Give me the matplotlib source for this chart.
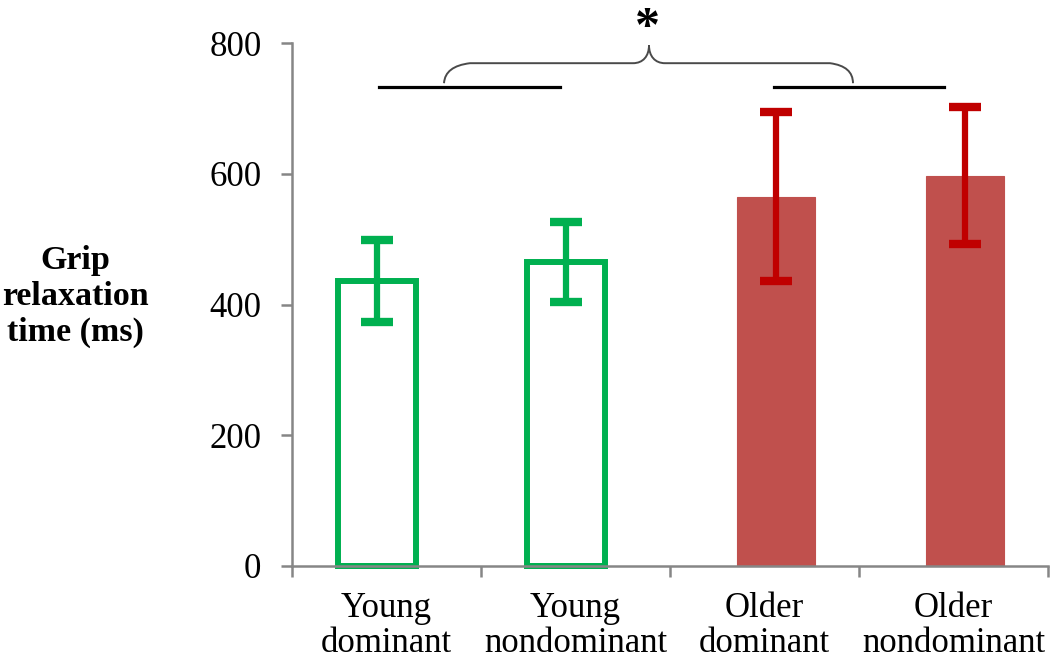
import numpy as np
import matplotlib.pyplot as plt
from matplotlib.path import Path
from matplotlib.patches import PathPatch

plt.rcParams['font.family'] = ['Liberation Serif', 'DejaVu Serif']

# data
groups = ['Young\ndominant', 'Young\nnondominant', 'Older\ndominant', 'Older\nnondominant']
means = [436, 465, 565, 597]
errors = [63, 61, 129, 105]
fill_colors = ['none', 'none', '#C0504D', '#C0504D']
edge_colors = ['#00B050', '#00B050', '#C0504D', '#C0504D']
err_colors = ['#00B050', '#00B050', '#C00000', '#C00000']
y_ticks = [0, 200, 400, 600, 800]

fig = plt.figure(figsize=(10.5, 6.61), dpi=100)
ax = fig.add_axes([292 / 1050, 1 - 566 / 661, 756 / 1050, 523 / 661])

x = np.arange(len(groups))
shift = np.array([-0.05, -0.05, 0.06, 0.06])
xb = x + shift

for i in range(len(groups)):
    lw = 4.3 if fill_colors[i] == 'none' else 0.8
    ax.bar(xb[i], means[i], width=0.41 if fill_colors[i] == 'none' else 0.415,
           color=fill_colors[i], edgecolor=edge_colors[i], linewidth=lw,
           zorder=2, clip_on=False)
    ax.errorbar(xb[i], means[i], yerr=errors[i], fmt='none', ecolor=err_colors[i],
                elinewidth=4.5, capsize=11.5, capthick=6, zorder=3)

ax.set_xlim(-0.5, 3.5)
ax.set_ylim(0, 800)

for s in ['top', 'right']:
    ax.spines[s].set_visible(False)
for s in ['left', 'bottom']:
    ax.spines[s].set_color('#868686')
    ax.spines[s].set_linewidth(1.8)

ax.set_yticks(y_ticks)
ax.tick_params(axis='y', length=8, width=1.8, color='#868686', pad=14, labelsize=25)
ax.set_xticks(x)
ax.set_xticklabels(groups, fontsize=25, linespacing=1.08)
ax.set_xticks(np.arange(-0.5, 4, 1), minor=True)
ax.tick_params(axis='x', which='major', length=0, pad=19)
ax.tick_params(axis='x', which='minor', length=8, width=1.8, color='#868686')

ax.set_ylabel('Grip\nrelaxation\ntime (ms)', rotation=0, fontsize=24.5,
              fontweight='bold', ha='center', va='center', linespacing=1.2)
ax.yaxis.set_label_coords(-0.287, 0.515)

# significance bars and brace
ax.plot([-0.04, 0.92], [732, 732], color='k', lw=2.3, clip_on=False, zorder=4)
ax.plot([2.05, 2.95], [732, 732], color='k', lw=2.3, clip_on=False, zorder=4)


def px(x_px, y_px):
    return ((x_px - 292) / 189 - 0.5, (566 - y_px) / 0.654)


brace = [
    (444, 83), (445, 66), (470, 63),
    (633, 63),
    (643, 63), (649, 56), (649, 45),
    (649, 56), (655, 63), (665, 63),
    (830, 63),
    (853, 66), (853, 83),
]
codes = [Path.MOVETO, Path.CURVE3, Path.CURVE3, Path.LINETO,
         Path.CURVE4, Path.CURVE4, Path.CURVE4,
         Path.CURVE4, Path.CURVE4, Path.CURVE4,
         Path.LINETO, Path.CURVE3, Path.CURVE3]
verts = [px(a, b) for a, b in brace]
ax.add_patch(PathPatch(Path(verts, codes), facecolor='none', edgecolor='#4a4a4a',
                       lw=1.4, clip_on=False, zorder=4))

sx, sy = px(647, 29)
ax.text(sx, sy, '*', fontsize=36, fontweight='bold', ha='center', va='center',
        clip_on=False)

fig.savefig('out.png', dpi=100)
